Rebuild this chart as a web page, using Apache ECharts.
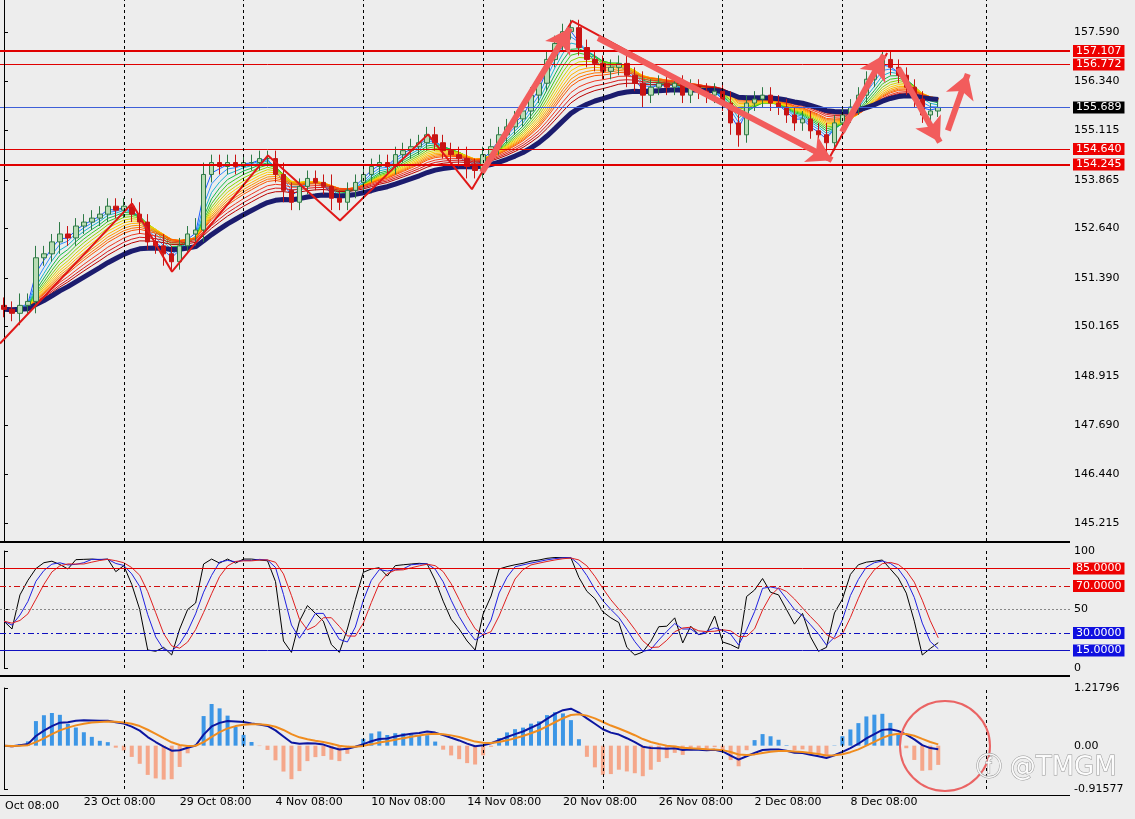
<!DOCTYPE html>
<html>
<head>
<meta charset="utf-8">
<script src="https://cdn.jsdelivr.net/npm/echarts@6/dist/echarts.min.js"></script>
<style>
  html, body { margin: 0; padding: 0; background: #ededed; }
  #main { width: 1135px; height: 819px; }
</style>
</head>
<body>
<div id="main"></div>
<script>
// 8h bars, closes
var closes = [150.6,150.5,150.7,150.8,151.9,152.0,152.3,152.5,152.4,152.7,152.8,152.9,153.0,153.2,153.1,153.2,153.0,152.8,152.3,152.2,
  152.0,151.8,152.2,152.5,152.6,154.0,154.3,154.2,154.3,154.2,154.3,154.3,154.4,154.4,154.0,153.6,153.3,153.7,153.9,153.8,
  153.7,153.4,153.3,153.6,153.8,154.0,154.2,154.3,154.2,154.5,154.6,154.7,154.8,155.0,154.8,154.6,154.5,154.4,154.2,154.1,
  154.5,154.7,155.0,155.2,155.4,155.6,156.0,156.3,156.9,157.3,157.6,157.7,157.2,156.9,156.8,156.6,156.7,156.8,156.5,156.3,
  156.0,156.2,156.3,156.2,156.3,156.0,156.2,156.1,156.0,156.1,155.8,155.3,155.0,155.8,155.9,156.0,155.8,155.7,155.5,155.3,
  155.4,155.1,155.0,154.8,155.3,155.5,155.7,156.0,156.4,156.6,156.9,156.7,156.5,156.2,155.9,155.5,155.6,155.69];
var wicks = [0.2,0.2,0.3,0.2,0.3,0.2,0.2,0.3,0.2,0.2,0.2,0.2,0.2,0.2,0.2,0.2,0.2,0.3,0.2,0.2,
  0.3,0.2,0.2,0.2,0.3,0.3,0.2,0.2,0.2,0.2,0.2,0.2,0.2,0.2,0.2,0.3,0.2,0.2,0.2,0.2,
  0.2,0.3,0.2,0.2,0.2,0.2,0.2,0.2,0.2,0.2,0.2,0.2,0.2,0.2,0.2,0.2,0.2,0.2,0.3,0.2,
  0.2,0.2,0.2,0.2,0.2,0.2,0.2,0.2,0.2,0.2,0.2,0.2,0.2,0.2,0.2,0.2,0.2,0.2,0.3,0.2,
  0.3,0.2,0.2,0.2,0.2,0.2,0.2,0.2,0.2,0.2,0.2,0.3,0.3,0.2,0.2,0.2,0.2,0.2,0.2,0.2,
  0.2,0.2,0.2,0.3,0.2,0.2,0.2,0.2,0.2,0.2,0.2,0.2,0.2,0.2,0.2,0.2,0.2,0.15];
var barCount = 134;
var priceTicks = [157.590,156.340,155.115,153.865,152.640,151.390,150.165,148.915,147.690,146.440,145.215];
var levels = [
  {v:157.107, c:'#e00000', w:2, bg:'#ee0000'},
  {v:156.772, c:'#e00000', w:1, bg:'#ee0000'},
  {v:155.689, c:'#3d5fd8', w:1, bg:'#000000'},
  {v:154.640, c:'#e00000', w:1, bg:'#ee0000'},
  {v:154.245, c:'#e00000', w:2, bg:'#ee0000'}
];
var oscLevels = [
  {v:85, c:'#e00000', t:'solid', bg:'#ee0000', label:'85.0000'},
  {v:70, c:'#d01010', t:[6,3,2,3], bg:'#ee0000', label:'70.0000'},
  {v:50, c:'#888888', t:[2,2], bg:null, label:''},
  {v:30, c:'#1010c0', t:[6,3,2,3], bg:'#1010e0', label:'30.0000'},
  {v:15, c:'#1010c0', t:'solid', bg:'#1010e0', label:'15.0000'}
];
var tickIdx = [10,22,34,46,58,70,82,94,106];
var tickLabels = ['23 Oct 08:00','29 Oct 08:00','4 Nov 08:00','10 Nov 08:00','14 Nov 08:00','20 Nov 08:00','26 Nov 08:00','2 Dec 08:00','8 Dec 08:00'];
var vGrid = [0,15,30,45,60,75,90,105,123];
var zigzag = [[-0.5,149.74],[16.03,153.27],[21.04,151.55],[33.06,154.48],[42.08,152.84],[53.1,155.01],[58.6,153.63],[71.13,157.87],[103.2,154.36],[110.6,157.06]];
var arrows = [
  [[59.86,154.05],[70.9,157.69]],
  [[74.4,157.44],[103.7,154.36]],
  [[104.95,155.07],[110.2,157.01]],
  [[112.0,156.68],[117.2,154.81]],
  [[118.2,155.11],[120.7,156.53]]
];
var emaPeriods = [2,3,4,5,6,7,8,9,10,11,12,13,15,17,19];
var emaColors = ['#1e5cff','#2f8fff','#19b4d0','#12b848','#3cc820','#8cd400','#d4d400','#ffd000','#ffb400','#ff9400','#ff7400','#ff5400','#f03820','#d81818','#b80000'];

function ema(arr, p) {
  var k = 2 / (p + 1), out = [], prev = arr[0];
  for (var i = 0; i < arr.length; i++) { prev = i ? arr[i] * k + prev * (1 - k) : arr[0]; out.push(prev); }
  return out;
}
function sma(arr, p) {
  var out = [];
  for (var i = 0; i < arr.length; i++) {
    var s = 0, n = 0;
    for (var j = Math.max(0, i - p + 1); j <= i; j++) { s += arr[j]; n++; }
    out.push(s / n);
  }
  return out;
}

var opens = closes.map(function (c, i) { return i ? closes[i - 1] : 150.7; });
var highs = closes.map(function (c, i) { return Math.max(c, opens[i]) + wicks[i]; });
var lows = closes.map(function (c, i) { return Math.min(c, opens[i]) - wicks[i]; });
var candles = closes.map(function (c, i) { return [opens[i], c, lows[i], highs[i]]; });
var cats = [];
for (var i = 0; i < barCount; i++) cats.push(i);
function pair(arr) { return arr.map(function (v, i) { return [i, v]; }); }

// stochastic
var kRaw = closes.map(function (c, i) {
  var hh = -1e9, ll = 1e9;
  for (var j = Math.max(0, i - 9); j <= i; j++) { hh = Math.max(hh, highs[j]); ll = Math.min(ll, lows[j]); }
  return (c - ll) / (hh - ll) * 100;
});
var kBlue = sma(kRaw, 3);
var kRed = sma(kBlue, 3);

// macd
var e1 = ema(closes, 6), e2 = ema(closes, 13);
var macd = e1.map(function (v, i) { return v - e2[i]; });
var signal = ema(macd, 5);
var hist = macd.map(function (v, i) { return (v - signal[i]) * 4; });

var chart = echarts.init(document.getElementById('main'));
var font = { fontFamily: 'DejaVu Sans', fontSize: 11, color: '#000' };
var series = [];

series.push({
  type: 'candlestick', xAxisIndex: 0, yAxisIndex: 0, data: candles, barWidth: 5, z: 3,
  itemStyle: { color: '#b9dcb4', color0: '#c81414', borderColor: '#2e7a46', borderColor0: '#c81414', borderWidth: 1 },
  markLine: {
    silent: true, symbol: 'none', animation: false,
    data: levels.map(function (l) {
      return { yAxis: l.v, lineStyle: { color: l.c, width: l.w, type: 'solid' },
        label: { show: true, position: 'end', formatter: l.v.toFixed(3), color: '#fff', backgroundColor: l.bg,
          padding: [1, 3, 0, 3], fontFamily: 'DejaVu Sans', fontSize: 11, distance: 3 } };
    })
  }
});
emaPeriods.forEach(function (p, k) {
  series.push({ type: 'line', xAxisIndex: 1, yAxisIndex: 0, data: pair(ema(closes, p)), showSymbol: false,
    lineStyle: { color: emaColors[k], width: 1 }, z: 1, silent: true });
});
series.push({ type: 'line', xAxisIndex: 1, yAxisIndex: 0, data: pair(ema(closes, 24)), showSymbol: false,
  lineStyle: { color: '#1c1c6e', width: 5 }, z: 2, silent: true,
  markLine: { silent: true, symbol: 'none', label: { show: false },
    lineStyle: { color: '#000', type: [3, 3], width: 1 }, data: vGrid.map(function (v) { return { xAxis: v }; }) } });
series.push({ type: 'line', xAxisIndex: 1, yAxisIndex: 0, data: zigzag, showSymbol: false,
  lineStyle: { color: '#e01818', width: 2 }, z: 4, silent: true,
  markLine: { silent: true, symbol: ['none', 'arrow'], symbolSize: [22, 24], label: { show: false },
    lineStyle: { color: '#f25c5c', width: 6, type: 'solid', opacity: 1 },
    data: arrows.map(function (a) { return [{ coord: a[0] }, { coord: a[1] }]; }) } });

// oscillator
series.push({ type: 'line', xAxisIndex: 2, yAxisIndex: 1, data: pair(kRaw), showSymbol: false, lineStyle: { color: '#000', width: 1 }, silent: true,
  markLine: { silent: true, symbol: 'none', data: oscLevels.map(function (l) {
    return { yAxis: l.v, lineStyle: { color: l.c, type: l.t, width: 1 },
      label: { show: !!l.bg, position: 'end', formatter: l.label, color: '#fff', backgroundColor: l.bg,
        padding: [1, 3, 0, 3], fontFamily: 'DejaVu Sans', fontSize: 11, distance: 3 } };
  }).concat(vGrid.map(function (v) { return { xAxis: v, lineStyle: { color: '#000', type: [3, 3], width: 1 }, label: { show: false } }; })) } });
series.push({ type: 'line', xAxisIndex: 2, yAxisIndex: 1, data: pair(kBlue), showSymbol: false, lineStyle: { color: '#2020e0', width: 1 }, silent: true });
series.push({ type: 'line', xAxisIndex: 2, yAxisIndex: 1, data: pair(kRed), showSymbol: false, lineStyle: { color: '#e02020', width: 1 }, silent: true });

// macd
series.push({ type: 'bar', xAxisIndex: 3, yAxisIndex: 2, barWidth: 4, silent: true,
  data: hist.map(function (v, i) { return { value: [i, v], itemStyle: { color: v >= 0 ? '#3c96e6' : '#f5a78a' } }; }),
  markLine: { silent: true, symbol: 'none', label: { show: false }, lineStyle: { color: '#000', type: [3, 3], width: 1 },
    data: vGrid.map(function (v) { return { xAxis: v }; }) } });
series.push({ type: 'line', xAxisIndex: 3, yAxisIndex: 2, data: pair(macd), showSymbol: false, lineStyle: { color: '#0c16a0', width: 2 }, silent: true });
series.push({ type: 'line', xAxisIndex: 3, yAxisIndex: 2, data: pair(signal), showSymbol: false, lineStyle: { color: '#f08c1e', width: 2 }, silent: true });

function valX(grid, labels) {
  return { type: 'value', gridIndex: grid, min: -0.5, max: barCount - 0.5, splitLine: { show: false },
    axisLine: { show: false }, axisTick: { show: false },
    axisLabel: labels ? Object.assign({ show: true, customValues: tickIdx, align: 'left', margin: 8,
      formatter: function (v) { return tickLabels[tickIdx.indexOf(Math.round(v))] || ''; } }, font) : { show: false } };
}
function rightY(grid, min, max, ticks, fmt) {
  return { type: 'value', gridIndex: grid, position: 'right', min: min, max: max, scale: true,
    splitLine: { show: false }, axisLine: { show: true, lineStyle: { color: '#000' } },
    axisTick: { show: true, customValues: ticks, length: 4, inside: false, lineStyle: { color: '#000' } },
    axisLabel: Object.assign({ customValues: ticks, margin: 4, formatter: fmt }, font) };
}

chart.setOption({
  backgroundColor: '#ededed',
  animation: false,
  grid: [
    { left: 0, top: 0, width: 1070, height: 541 },
    { left: 0, top: 551, width: 1070, height: 117 },
    { left: 0, top: 688, width: 1070, height: 101 }
  ],
  xAxis: [
    { type: 'category', gridIndex: 0, data: cats, boundaryGap: true, axisLine: { show: false }, axisTick: { show: false }, axisLabel: { show: false }, splitLine: { show: false } },
    valX(0, false), valX(1, false), valX(2, true)
  ],
  yAxis: [
    rightY(0, 144.76, 158.398, priceTicks, function (v) { return v.toFixed(3); }),
    rightY(1, 0, 100, [0, 50, 100], function (v) { return String(v); }),
    rightY(2, -0.91577, 1.21796, [-0.91577, 0, 1.21796], function (v) { return v === 0 ? '0.00' : String(v); })
  ],
  series: series,
  graphic: [
    { type: 'rect', shape: { x: 0, y: 541, width: 1070, height: 2 }, style: { fill: '#000' }, z: 10 },
    { type: 'rect', shape: { x: 0, y: 675, width: 1070, height: 2 }, style: { fill: '#000' }, z: 10 },
    { type: 'rect', shape: { x: 0, y: 795, width: 1070, height: 1 }, style: { fill: '#000' }, z: 10 },
    { type: 'text', left: 5, top: 801, style: { text: 'Oct 08:00', fill: '#000', font: '11px DejaVu Sans' } },
    { type: 'circle', shape: { cx: 945, cy: 746, r: 45 }, style: { fill: 'none', stroke: '#ea6464', lineWidth: 2 }, z: 10 },
    { type: 'text', left: 975, top: 755, style: { text: 'ⓕ @TMGM', fill: 'rgba(255,255,255,0.9)', stroke: '#999', lineWidth: 1, font: '26px DejaVu Sans' }, z: 11 }
  ]
});
</script>
</body>
</html>
